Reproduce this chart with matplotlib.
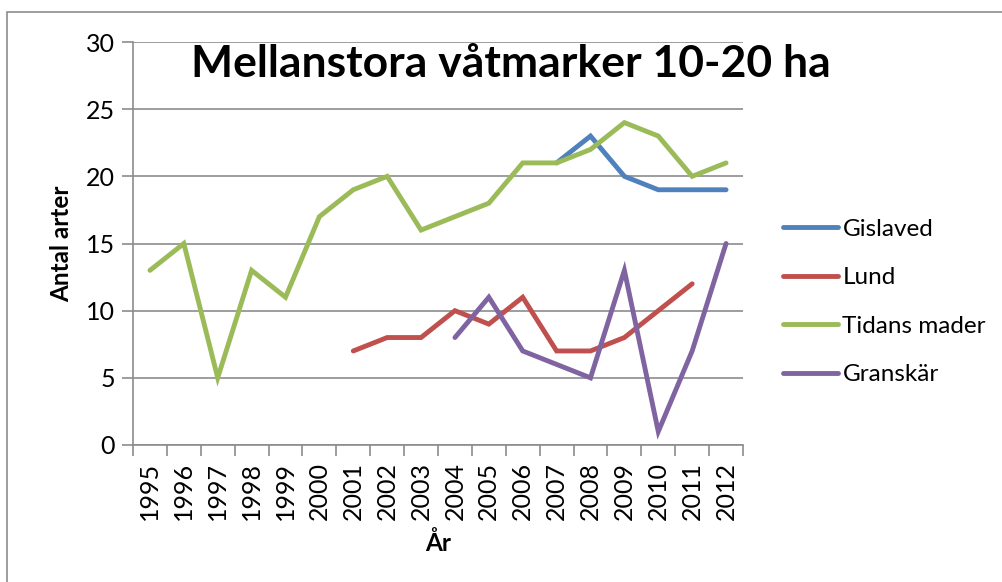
import matplotlib.pyplot as plt
import numpy as np
from matplotlib.patches import Rectangle

# data
years = [str(y) for y in range(1995, 2013)]
gislaved = [None] * 12 + [21, 23, 20, 19, 19, 19]
lund = [None] * 6 + [7, 8, 8, 10, 9, 11, 7, 7, 8, 10, 12, None]
tidans_mader = [13, 15, 5, 13, 11, 17, 19, 20, 16, 17, 18, 21, 21, 22, 24, 23, 20, 21]
granskar = [None] * 9 + [8, 11, 7, 6, 5, 13, 1, 7, 15]

series = [
    ("Gislaved", gislaved, "#4F81BD"),
    ("Lund", lund, "#C0504D"),
    ("Tidans mader", tidans_mader, "#9BBB59"),
    ("Granskär", granskar, "#8064A2"),
]

plt.rcParams['font.family'] = ['Lato', 'DejaVu Sans']

W, H = 1002, 582
fig = plt.figure(figsize=(W / 100, H / 100), dpi=100)
ax = fig.add_axes([133 / W, 1 - 445 / H, (743 - 133) / W, (445 - 42) / H])

# outer chart border
fig.patches.append(Rectangle((7 / W, -0.1), 1.2, 1 - 12 / H + 0.1, transform=fig.transFigure,
                             fill=False, edgecolor="#8c8c8c", linewidth=1.2))

x = np.arange(len(years))
for name, vals, col in series:
    y = np.array([np.nan if v is None else v for v in vals], dtype=float)
    ax.plot(x, y, color=col, linewidth=3.5, label=name, solid_capstyle='round', solid_joinstyle='miter')

ax.set_xlim(-0.5, len(years) - 0.5)
ax.set_ylim(0, 30)
ax.set_yticks(range(0, 31, 5))
ax.set_xticks(np.arange(-0.5, len(years), 1.0))
ax.set_xticklabels([])
ax.set_xticks(x, minor=True)
ax.set_xticklabels(years, minor=True, rotation=90)
ax.tick_params(axis='x', which='minor', length=0, pad=12, labelsize=18)
ax.tick_params(axis='x', which='major', length=8, width=1.2, color="#8c8c8c", direction='out')
ax.tick_params(axis='y', length=8, width=1.2, color="#8c8c8c", labelsize=18, pad=5)

ax.grid(axis='y', color="#8c8c8c", linewidth=1.2)
ax.set_axisbelow(True)
for s in ['top', 'right']:
    ax.spines[s].set_visible(False)
for s in ['left', 'bottom']:
    ax.spines[s].set_color("#8c8c8c")
    ax.spines[s].set_linewidth(1.2)

ax.set_ylabel("Antal arter", fontsize=17.5, fontweight='bold', labelpad=9)
ax.set_xlabel("År", fontsize=17.5, fontweight='bold', labelpad=8)

fig.text(511 / W, 1 - 64 / H, "Mellanstora våtmarker 10-20 ha", fontsize=32, fontweight='bold',
         ha='center', va='center')

ax.legend(loc='center left', bbox_to_anchor=(761 / W, 1 - 302 / H), bbox_transform=fig.transFigure,
          frameon=False, fontsize=17.5, handlelength=2.25, handletextpad=0.2, labelspacing=1.13)

fig.savefig("out.png", dpi=100)
plt.close(fig)
